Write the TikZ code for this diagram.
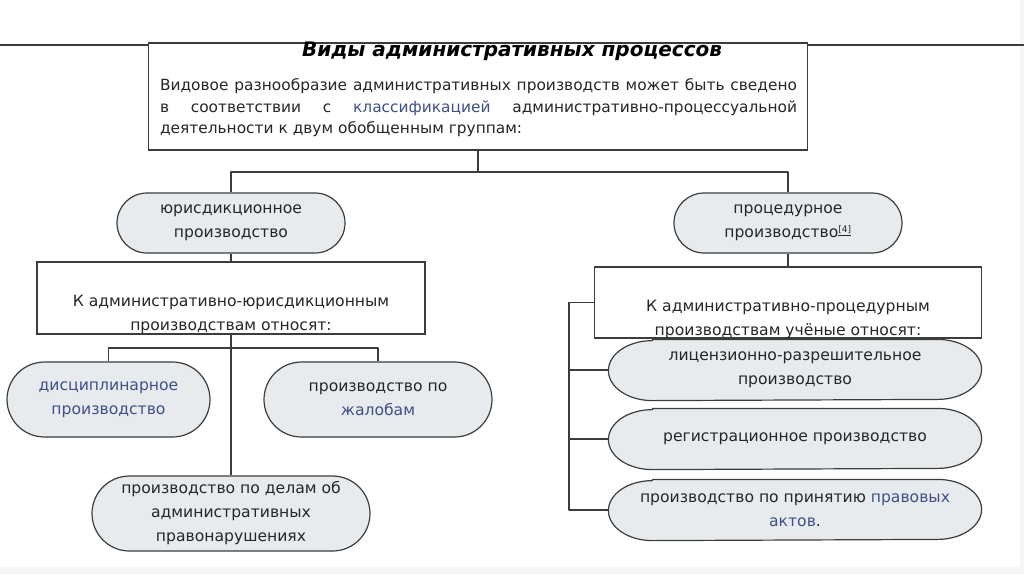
\documentclass[tikz,border=0pt]{standalone}
\usepackage{fontspec}
\setmainfont{DejaVu Sans}
\usetikzlibrary{positioning,shapes.misc,calc,backgrounds}
\definecolor{pillgray}{HTML}{E8EBED}
\definecolor{linegray}{HTML}{3C3C3C}
\definecolor{txtgray}{HTML}{262626}
\definecolor{linkblue}{HTML}{3F5088}
\newcommand{\lnk}[1]{\textcolor{linkblue}{#1}}
\newcommand{\bodyfont}{\fontsize{15.6}{24}\selectfont}

\begin{document}
\begin{tikzpicture}[x=1pt,y=-1pt,line width=1.2pt,
    pill/.style={rounded rectangle, draw=linegray, fill=pillgray, align=center,
                 text=txtgray, inner sep=0pt, font=\bodyfont},
    oval/.style={rectangle, align=center, text=txtgray, inner sep=0pt, font=\bodyfont,
                 minimum width=372pt, minimum height=60pt},
    frame/.style={rectangle, draw=linegray, fill=white, inner sep=0pt},
    boxtext/.style={align=center, text=txtgray, inner sep=0pt, font=\bodyfont},
    link/.style={draw=linegray, line width=1.2pt, line join=round}]

  \useasboundingbox (0,0) rectangle (1024,574);
  \fill[gray!7] (0,567) rectangle (1024,574);
  \fill[gray!7] (1020,0) rectangle (1024,574);

  % header
  \coordinate (ruleL) at (0,45);
  \coordinate (ruleR) at (1024,45);
  \draw[link] (ruleL) -- (ruleR);
  \node[frame, minimum width=659pt, minimum height=107pt] (top) at (478,96.5) {};
  \node[inner sep=0pt, font=\fontsize{20}{22}\selectfont\bfseries\itshape] (title) at (512,51)
       {Виды административных процессов};
  \node[inner sep=0pt, text width=637pt, align=justify, text=txtgray,
        font=\fontsize{15.4}{21.5}\selectfont] (intro) at (478.5,108)
       {Видовое разнообразие административных производств может быть сведено\linebreak
        в соответствии с \lnk{классификацией} административно-процессуальной\linebreak
        деятельности к двум обобщенным группам:};

  % two groups
  \node[pill, minimum width=228pt, minimum height=60pt] (jur) at (231,223)
       {юрисдикционное\\производство};
  \node[pill, minimum width=228pt, minimum height=60pt] (proc) at (788,223)
       {процедурное\\производство\textsuperscript{\fontsize{9}{9}\selectfont\underline{[4]}}};

  \node[frame, minimum width=388pt, minimum height=72pt] (jurbox) at (231,298) {};
  \node[boxtext] (jurtext) at (231,314.5)
       {К административно-юрисдикционным\\производствам относят:};
  \node[frame, minimum width=387pt, minimum height=71pt] (procbox) at (788,302.5) {};
  \node[boxtext] (proctext) at (788,319)
       {К административно-процедурным\\производствам учёные относят:};

  % jurisdictional kinds
  \node[pill, minimum width=203pt, minimum height=75pt] (disc) at (108.5,399.5)
       {\lnk{дисциплинарное}\\\lnk{производство}};
  \node[pill, minimum width=228pt, minimum height=75pt] (compl) at (378,399.5)
       {производство по\\\lnk{жалобам}};
  \node[pill, minimum width=278pt, minimum height=75pt] (offence) at (231,513.5)
       {производство по делам об\\административных\\правонарушениях};

  % procedural kinds
  \node[oval] (lic) at (795,370)
       {лицензионно-разрешительное\\производство};
  \node[oval] (reg) at (795,439)
       {регистрационное производство};
  \node[oval] (act) at (795,510)
       {производство по принятию \lnk{правовых}\\\lnk{актов}.};
  \begin{scope}[on background layer]
    \foreach \n in {lic,reg,act}
      \draw[link, fill=pillgray]
        ($(\n.north west)+(44,0)$) -- ($(\n.north east)+(-44,0)$)
        arc[start angle=90, end angle=-90, x radius=44pt, y radius=30pt]
        -- ($(\n.south west)+(44,0)$)
        arc[start angle=270, end angle=90, x radius=44pt, y radius=30pt] -- cycle;
  \end{scope}

  % connectors
  \coordinate (fork) at (478,172);
  \coordinate (jurfork) at (231,348);
  \coordinate (spine) at (569,302.5);
  \draw[link] (top.south) -- (fork);
  \draw[link] (jur.north) |- (fork) -| (proc.north);
  \draw[link] (jur.south) -- (jurbox.north);
  \draw[link] (proc.south) -- (procbox.north);
  \draw[link] (jurbox.south) -- (offence.north);
  \draw[link] (disc.north) |- (jurfork) -| (compl.north);
  \draw[link] (procbox.west) -- (spine) |- (act.west);
  \draw[link] (spine |- lic.west) -- (lic.west);
  \draw[link] (spine |- reg.west) -- (reg.west);

\end{tikzpicture}
\end{document}
